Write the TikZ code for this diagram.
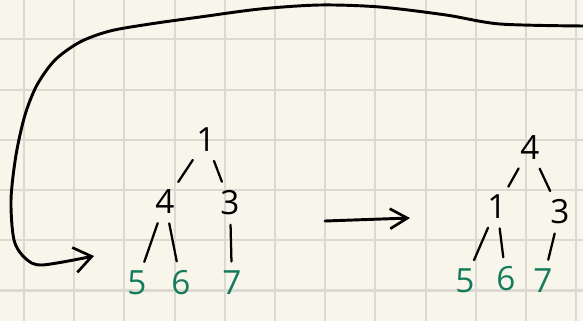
\documentclass[tikz,border=0pt]{standalone}
\usepackage{fontspec}
\setmainfont{Open Sans}
\usetikzlibrary{arrows.meta, positioning}
\definecolor{paper}{RGB}{248,246,234}
\definecolor{gridgray}{RGB}{220,217,210}
\definecolor{leafgreen}{RGB}{22,122,92}
\tikzset{
  digit/.style={inner sep=0pt, font=\fontsize{25}{28}\selectfont},
  leaf/.style={digit, text=leafgreen},
  branch/.style={line width=1.7pt, line cap=round, shorten <=7pt, shorten >=7pt},
  pen/.style={line width=2.2pt, line cap=round, line join=round},
}

\begin{document}
\begin{tikzpicture}[x=0.75pt, y=-0.75pt]
% papel cuadriculado
\fill[paper] (0,0) rectangle (583,321);
\useasboundingbox (0,0) rectangle (583,321);
\foreach \i in {0,...,11}
  \draw[gridgray, line width=1.5pt] ({24+50.2*\i},0) -- ++(0,321);
\foreach \j in {0,...,5}
  \draw[gridgray, line width=1.5pt] (0,{39.5+50.2*\j}) -- ++(583,0);

% arbol de la izquierda
\node[digit] (l1) at (206,140) {1};
\node[digit] (l4) at (165,202) {4};
\node[digit] (l3) at (230,203) {3};
\node[leaf] (l5) at (137,283) {5};
\node[leaf] (l6) at (181,283) {6};
\node[leaf] (l7) at (232,283) {7};
\draw[branch] (l1) -- (l4);
\draw[branch] (l1) -- (l3);
\draw[branch] (l4) -- (l5);
\draw[branch] (l4) -- (l6);
\draw[branch] (l3) -- (l7);

% arbol de la derecha
\node[digit] (r4) at (530,148) {4};
\node[digit] (r1) at (497,207) {1};
\node[digit] (r3) at (560,212) {3};
\node[leaf] (r5) at (465,281) {5};
\node[leaf] (r6) at (506,279) {6};
\node[leaf] (r7) at (543,281) {7};
\draw[branch] (r4) -- (r1);
\draw[branch] (r4) -- (r3);
\draw[branch] (r1) -- (r5);
\draw[branch] (r1) -- (r6);
\draw[branch] (r3) -- (r7);

% flecha del medio
\coordinate (ma) at (325,221);
\coordinate (mb) at (410,218);
\draw[pen, -{Straight Barb[length=13pt, width=15pt, line width=2pt]}] (ma) -- (mb);

% curva grande
\draw[pen, -{Straight Barb[length=13pt, width=19pt, line width=2pt]}]
  plot[smooth, tension=0.5] coordinates {(583,26) (500,24) (446,15) (380,7)
  (320,5) (260,9) (200,17) (150,24) (110,31) (80,42) (55,60) (37,85)
  (25,115) (16,155) (11,200) (14,240) (25,258) (42,265) (94,256)};
\end{tikzpicture}
\end{document}
